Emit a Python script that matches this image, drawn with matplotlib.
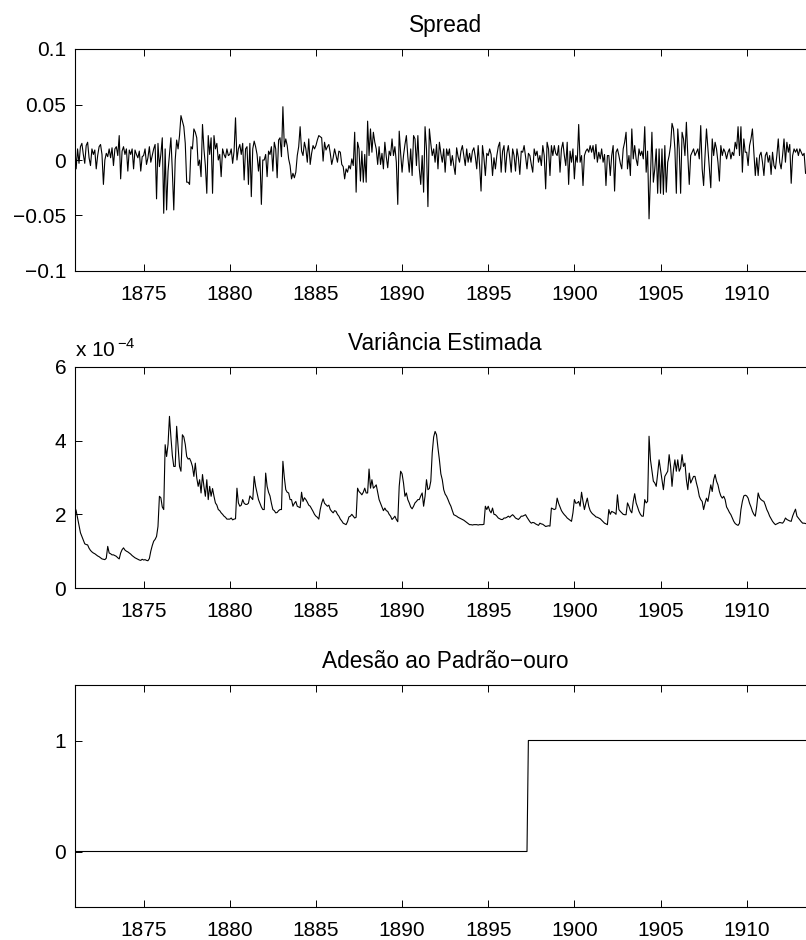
import matplotlib
matplotlib.use("Agg")
import matplotlib.pyplot as plt
from matplotlib.ticker import FuncFormatter
import numpy as np

plt.rcParams['font.family'] = ['Liberation Sans', 'DejaVu Sans']
plt.rcParams['font.size'] = 15

# monthly data, Jan 1871 .. Jun 1913
start_year = 1871

# spread (one row per year)
spread = [
    0.016, -0.008, 0.010, -0.003, 0.012, 0.015, 0.005, -0.003, 0.013, 0.016, 0.002, -0.005,  # 1871
    0.010, 0.005, 0.009, -0.008, 0.004, 0.012, 0.014, 0.005, -0.022, 0.000, 0.006, 0.003,
    0.010, 0.002, 0.011, -0.005, 0.010, 0.012, 0.004, 0.022, -0.017, 0.008, 0.012, 0.005,
    0.010, -0.010, 0.009, 0.005, 0.010, -0.008, 0.009, 0.005, 0.002, 0.008, -0.010, 0.003,
    0.004, 0.010, -0.004, 0.002, 0.012, -0.002, 0.004, 0.010, 0.014, -0.035, 0.015, -0.006,  # 1875
    0.005, 0.020, -0.048, 0.010, -0.045, -0.010, 0.005, 0.020, -0.010, -0.045, 0.000, 0.018,
    0.010, 0.022, 0.040, 0.035, 0.030, 0.015, -0.020, -0.020, -0.022, 0.012, 0.010, 0.028,
    0.025, 0.020, -0.005, 0.000, -0.015, 0.032, 0.010, -0.005, -0.030, 0.022, 0.005, 0.020,
    -0.030, 0.022, 0.010, 0.015, 0.000, 0.005, -0.015, 0.010, 0.005, 0.002, 0.010, 0.004,
    0.005, 0.010, -0.003, 0.008, 0.038, 0.000, 0.010, 0.014, 0.005, 0.015, -0.018, 0.010,  # 1880
    0.012, -0.022, 0.015, -0.033, 0.010, 0.017, 0.012, 0.005, -0.010, 0.003, -0.040, 0.000,
    0.000, 0.005, -0.015, 0.008, 0.005, 0.012, -0.010, 0.016, 0.010, -0.016, 0.018, 0.020,
    0.003, 0.048, 0.012, 0.019, 0.013, 0.001, -0.005, -0.017, -0.012, -0.016, -0.011, 0.004,
    0.012, 0.030, 0.008, 0.004, 0.016, 0.010, -0.002, 0.019, -0.004, 0.006, 0.013, 0.010,
    0.013, 0.018, 0.022, 0.021, 0.020, -0.001, 0.016, 0.009, 0.012, 0.014, 0.006, -0.004,  # 1885
    0.002, 0.010, 0.004, -0.002, 0.008, 0.007, -0.004, -0.006, -0.017, -0.008, -0.011, -0.005,
    -0.008, 0.001, -0.005, 0.025, -0.029, 0.016, 0.010, -0.019, 0.008, -0.020, 0.005, -0.020,
    0.035, 0.004, 0.028, 0.007, 0.025, 0.016, 0.010, -0.004, 0.012, -0.004, 0.006, -0.008,
    0.016, 0.003, -0.007, 0.008, 0.004, 0.019, 0.004, 0.012, -0.002, -0.040, 0.026, 0.006,
    -0.011, 0.004, 0.014, 0.022, 0.003, -0.011, 0.010, -0.014, 0.022, 0.019, -0.005, 0.022,  # 1890
    -0.008, -0.022, 0.004, -0.029, 0.030, 0.010, -0.042, 0.028, 0.015, 0.004, 0.010, -0.002,
    0.014, -0.008, 0.016, 0.006, -0.002, 0.010, -0.011, 0.010, 0.004, 0.010, -0.005, 0.004,
    -0.005, -0.013, 0.011, 0.003, -0.002, 0.008, 0.013, 0.004, -0.005, 0.010, -0.002, 0.006,
    -0.002, 0.008, 0.011, 0.003, -0.008, 0.013, -0.005, -0.028, 0.013, 0.002, -0.014, 0.006,
    0.004, 0.010, 0.005, -0.014, 0.002, -0.008, 0.004, 0.012, 0.016, -0.011, 0.008, 0.013,  # 1895
    -0.011, 0.006, 0.013, 0.002, -0.011, 0.010, 0.004, -0.010, 0.010, 0.002, -0.013, 0.008,
    0.007, 0.013, 0.003, -0.008, 0.006, 0.004, -0.004, -0.011, 0.010, 0.004, 0.008, -0.002,
    0.004, -0.005, 0.013, 0.004, -0.026, 0.016, 0.010, -0.014, 0.013, 0.004, 0.013, 0.006,
    0.004, 0.013, -0.011, 0.010, 0.016, 0.004, -0.005, 0.016, -0.022, 0.008, -0.002, 0.010,
    -0.017, 0.004, -0.002, 0.032, -0.002, 0.004, -0.023, 0.004, 0.008, 0.010, 0.007, 0.013,  # 1900
    0.007, 0.013, 0.001, 0.014, -0.002, 0.007, 0.001, 0.010, -0.002, 0.005, -0.023, 0.004,
    0.004, -0.014, 0.004, 0.013, -0.028, 0.007, 0.010, 0.004, -0.003, -0.008, 0.010, 0.016,
    0.025, -0.008, 0.004, -0.014, 0.028, 0.001, 0.013, 0.001, -0.005, 0.010, 0.004, 0.008,
    0.001, 0.030, -0.011, 0.008, -0.053, -0.014, 0.025, -0.020, -0.008, 0.010, -0.030, 0.010,
    -0.030, 0.010, -0.031, 0.013, -0.029, -0.002, 0.004, 0.013, 0.033, 0.028, 0.010, -0.030,  # 1905
    0.028, 0.010, -0.030, 0.025, 0.019, 0.004, 0.034, 0.004, -0.022, 0.004, 0.007, 0.010,
    0.004, 0.007, 0.010, 0.001, 0.031, -0.008, -0.023, 0.004, 0.028, 0.010, -0.008, -0.025,
    0.019, 0.004, 0.016, 0.010, -0.002, -0.019, 0.013, 0.004, 0.010, 0.007, 0.001, 0.007,
    0.010, 0.001, 0.007, 0.004, 0.016, 0.010, 0.030, 0.004, 0.030, -0.011, 0.019, 0.007,
    0.007, -0.005, 0.013, 0.019, 0.028, 0.007, -0.014, 0.002, -0.014, 0.004, 0.007, -0.002,  # 1910
    -0.014, 0.004, 0.007, -0.002, 0.004, -0.013, 0.007, -0.005, -0.008, 0.004, 0.019, -0.002,
    -0.008, 0.004, 0.019, -0.002, 0.016, 0.007, 0.014, -0.021, 0.004, 0.010, 0.007, 0.010,
    0.004, 0.010, 0.007, 0.004, 0.006, -0.012,
]

# estimated variance, in units of 1e-4
variance = [
    2.2, 2.1, 1.9, 1.7, 1.5, 1.4, 1.3, 1.2, 1.18, 1.17, 1.08, 1.02,  # 1871
    0.98, 0.95, 0.93, 0.9, 0.87, 0.85, 0.82, 0.79, 0.78, 0.77, 0.81, 1.13,
    0.95, 0.93, 0.9, 0.9, 0.88, 0.86, 0.82, 0.79, 0.95, 1.04, 1.09, 1.03,
    1.0, 0.98, 0.95, 0.92, 0.88, 0.85, 0.82, 0.8, 0.78, 0.76, 0.75, 0.78,
    0.76, 0.77, 0.75, 0.74, 0.8, 1.0, 1.15, 1.27, 1.32, 1.40, 1.67, 2.49,  # 1875
    2.45, 2.2, 2.13, 3.89, 3.57, 3.9, 4.66, 4.1, 3.6, 3.3, 3.3, 4.39,
    3.85, 3.3, 3.17, 4.16, 4.1, 3.9, 3.57, 3.5, 3.52, 3.43, 3.3, 3.03,
    3.39, 2.99, 2.76, 2.94, 2.58, 3.08, 2.76, 2.49, 2.94, 2.4, 2.76, 2.49,
    2.7, 2.49, 2.31, 2.25, 2.13, 2.1, 2.04, 2.0, 1.95, 1.92, 1.87, 1.87,
    1.87, 1.9, 1.85, 1.87, 1.88, 2.71, 2.31, 2.22, 2.25, 2.4, 2.3, 2.27,  # 1880
    2.27, 2.3, 2.5, 2.45, 2.4, 3.03, 2.76, 2.58, 2.4, 2.3, 2.2, 2.13,
    2.13, 3.12, 2.76, 2.6, 2.5, 2.3, 2.13, 2.1, 2.04, 2.05, 2.1, 2.13,
    2.13, 3.44, 3.0, 2.67, 2.6, 2.58, 2.4, 2.4, 2.22, 2.3, 2.35, 2.22,
    2.2, 2.18, 2.6, 2.35, 2.45, 2.4, 2.33, 2.25, 2.22, 2.15, 2.08, 2.0,
    1.95, 1.92, 1.87, 2.13, 2.3, 2.42, 2.3, 2.26, 2.22, 2.25, 2.13, 2.08,  # 1885
    2.04, 2.1, 2.08, 2.0, 1.95, 1.87, 1.82, 1.76, 1.74, 1.72, 1.8, 1.93,
    1.95, 2.0, 1.95, 1.9, 1.92, 2.71, 2.62, 2.58, 2.53, 2.6, 2.71, 2.58,
    2.58, 3.23, 2.71, 2.94, 2.71, 2.75, 2.8, 2.6, 2.4, 2.3, 2.2, 2.1,
    2.17, 2.1, 2.08, 2.0, 1.95, 1.86, 1.9, 1.95, 1.86, 1.8, 2.76, 3.17,
    3.1, 2.85, 2.49, 2.58, 2.4, 2.31, 2.2, 2.15, 2.22, 2.31, 2.35, 2.4,  # 1890
    2.4, 2.5, 2.58, 2.22, 2.49, 2.94, 2.67, 2.7, 2.9, 3.67, 4.1, 4.25,
    4.16, 3.8, 3.48, 3.1, 2.94, 2.67, 2.55, 2.49, 2.4, 2.3, 2.22, 2.1,
    1.99, 1.97, 1.95, 1.92, 1.9, 1.88, 1.86, 1.84, 1.81, 1.78, 1.75, 1.72,
    1.72, 1.71, 1.72, 1.72, 1.72, 1.71, 1.72, 1.72, 1.72, 1.73, 2.22, 2.13,
    2.22, 2.1, 2.04, 2.17, 2.0, 1.99, 1.95, 1.9, 1.88, 1.86, 1.86, 1.9,  # 1895
    1.9, 1.92, 1.95, 1.92, 1.96, 1.99, 1.95, 1.9, 1.88, 1.86, 1.9, 1.95,
    1.95, 1.97, 1.99, 1.92, 1.86, 1.8, 1.76, 1.78, 1.77, 1.74, 1.72, 1.7,
    1.76, 1.74, 1.73, 1.7, 1.67, 1.68, 1.69, 1.68, 2.17, 2.15, 2.13, 2.15,
    2.44, 2.3, 2.2, 2.1, 2.04, 1.99, 1.95, 1.9, 1.87, 1.84, 1.81, 2.04,
    2.4, 2.3, 2.31, 2.35, 2.22, 2.6, 2.35, 2.13, 2.3, 2.44, 2.22, 2.1,  # 1900
    2.04, 2.0, 1.97, 1.93, 1.92, 1.9, 1.88, 1.84, 1.8, 1.76, 1.74, 1.72,
    2.13, 2.0, 2.08, 2.06, 2.04, 2.0, 2.53, 2.13, 2.08, 2.04, 2.0, 1.99,
    1.99, 2.31, 2.22, 2.1, 2.04, 2.35, 2.56, 2.31, 2.2, 2.08, 2.0, 1.95,
    1.95, 2.4, 2.31, 2.35, 4.12, 3.48, 3.2, 2.9, 2.85, 2.76, 3.1, 3.48,
    3.2, 2.94, 2.67, 3.03, 3.1, 3.17, 3.62, 3.3, 2.76, 3.21, 3.48, 3.17,  # 1905
    3.48, 3.17, 3.26, 3.62, 3.3, 3.39, 2.94, 2.67, 3.12, 2.85, 2.94, 3.03,
    3.03, 2.85, 2.7, 2.49, 2.4, 2.35, 2.13, 2.3, 2.44, 2.35, 2.58, 2.8,
    2.62, 2.94, 3.08, 2.9, 2.8, 2.62, 2.5, 2.44, 2.49, 2.4, 2.2, 2.13,
    2.05, 1.99, 1.9, 1.81, 1.75, 1.72, 1.7, 1.76, 2.13, 2.35, 2.5, 2.52,
    2.5, 2.44, 2.3, 2.2, 2.08, 2.0, 1.95, 2.22, 2.58, 2.45, 2.4, 2.37,  # 1910
    2.35, 2.25, 2.13, 2.05, 1.95, 1.88, 1.81, 1.76, 1.72, 1.74, 1.76, 1.78,
    1.77, 1.76, 1.81, 1.9, 1.86, 1.84, 1.82, 1.81, 1.95, 2.05, 2.14, 1.95,
    1.9, 1.85, 1.8, 1.76, 1.76, 1.75,
]

# gold standard adherence (step)
gold_dates = [1871.0, 1897.25, 1897.33, 1913.42]
gold_vals = [0, 0, 1, 1]

titles = ['Spread', 'Variância Estimada', 'Adesão ao Padrão\u2212ouro']
xticks = [1875, 1880, 1885, 1890, 1895, 1900, 1905, 1910]

t = start_year + np.arange(len(spread)) / 12.0
var = np.array(variance) * 1e-4


def fmt(v, pos):
    s = '%g' % v
    return s.replace('-', '\u2212')


fig = plt.figure(figsize=(8.06, 9.40), dpi=100)
W = 806.0
H = 940.0
# axes run past the right edge of the picture (cropped, as in the original)
left = 74.7 / W
width = (815.6 - 74.7) / W
ax1 = fig.add_axes([left, (H - 271) / H, width, 222 / H])
ax2 = fig.add_axes([left, (H - 588) / H, width, 221 / H])
ax3 = fig.add_axes([left, (H - 907) / H, width, 222 / H])

ax1.plot(t, spread, color='k', lw=0.8)
ax1.set_ylim(-0.1, 0.1)
ax1.set_yticks([-0.1, -0.05, 0, 0.05, 0.1])
ax1.yaxis.set_major_formatter(FuncFormatter(fmt))

ax2.plot(t, var, color='k', lw=0.8)
ax2.set_ylim(0, 6e-4)
ax2.set_yticks([0, 2e-4, 4e-4, 6e-4])
ax2.yaxis.set_major_formatter(FuncFormatter(lambda v, p: '%g' % round(v / 1e-4, 6)))
ax2.text(0, 1.03, 'x 10$^{\\,\\mathregular{\u22124}}$', transform=ax2.transAxes,
         ha='left', va='bottom', fontsize=15)

ax3.plot(gold_dates, gold_vals, color='k', lw=0.8)
ax3.set_ylim(-0.5, 1.5)
ax3.set_yticks([0, 1])

for ax, title in zip([ax1, ax2, ax3], titles):
    ax.set_xlim(1871, 1914)
    ax.set_xticks(xticks)
    ax.set_title(title, fontsize=16.3, pad=12.5)
    ax.tick_params(direction='in', top=True, right=True, length=5, width=0.7,
                   labelsize=15)
    ax.tick_params(axis='x', pad=10)
    ax.tick_params(axis='y', pad=6)
    for s in ax.spines.values():
        s.set_linewidth(0.8)

fig.savefig('out.png', dpi=100)
